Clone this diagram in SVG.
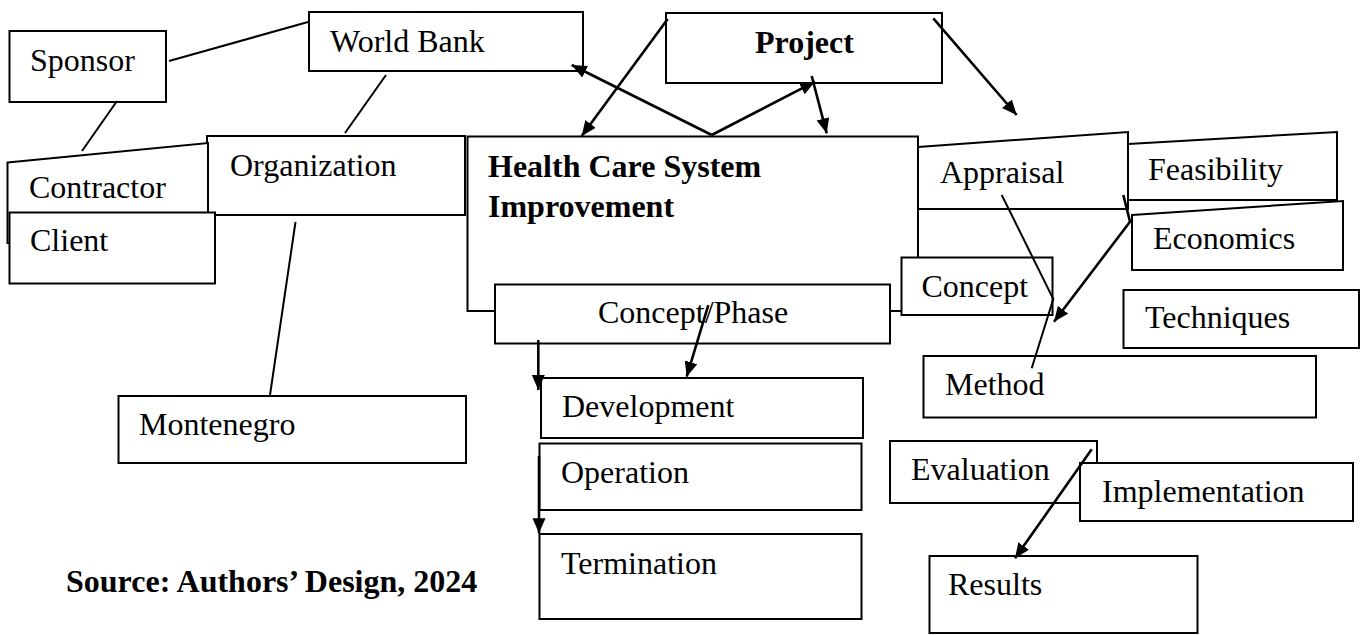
<svg xmlns="http://www.w3.org/2000/svg" width="1367" height="635" viewBox="0 0 1367 635">
<style>
.b{fill:#fff;stroke:#000;stroke-width:2}
.t{font-family:"Liberation Serif","Times New Roman",serif;font-size:32px;fill:#000}
.tb{font-family:"Liberation Serif","Times New Roman",serif;font-size:32px;font-weight:bold;fill:#000}
.l{fill:none;stroke:#000;stroke-width:2}
.a{fill:none;stroke:#000;stroke-width:2.6;marker-end:url(#ah)}
</style>
<defs>
<marker id="ah" markerUnits="userSpaceOnUse" markerWidth="16" markerHeight="14" refX="15" refY="6.5" orient="auto">
<path d="M0,0 L15,6.5 L0,13 z" fill="#000"/>
</marker>
</defs>
<rect width="1367" height="635" fill="#fff"/>

<g id="sponsor"><rect class="b" x="9.5" y="31" width="156.5" height="71"/><text class="t" x="30" y="71">Sponsor</text></g>
<g id="worldbank"><rect class="b" x="309" y="12" width="274" height="59"/><text class="t" x="330" y="52">World Bank</text></g>
<g id="organization"><rect class="b" x="207" y="136" width="258" height="79"/><text class="t" x="230" y="176">Organization</text></g>
<g id="contractor"><polygon class="b" points="7.5,162.5 208,143 208,243 7.5,243"/><text class="t" x="29" y="198">Contractor</text></g>
<g id="client"><rect class="b" x="9.5" y="212.5" width="205.5" height="71"/><text class="t" x="30" y="251">Client</text></g>
<g id="montenegro"><rect class="b" x="118.5" y="396" width="347.5" height="67"/><text class="t" x="139" y="435">Montenegro</text></g>
<g id="project"><rect class="b" x="666" y="13" width="276" height="70"/><text class="tb" x="755" y="53">Project</text></g>
<g id="healthcare"><rect class="b" x="467.5" y="136.5" width="450.5" height="174.5"/><text class="tb" x="488" y="177">Health Care System</text><text class="tb" x="488" y="217">Improvement</text></g>
<g id="appraisal"><polygon class="b" points="918,147 1128,132 1128,209 918,209"/><text class="t" x="940" y="183">Appraisal</text></g>
<g id="feasibility"><polygon class="b" points="1128,144 1337,132 1337,200 1128,200"/><text class="t" x="1148" y="180">Feasibility</text></g>
<g id="economics"><polygon class="b" points="1132,215 1343,201 1343,270 1132,270"/><text class="t" x="1153" y="249">Economics</text></g>
<g id="conceptphase"><rect class="b" x="495" y="284.5" width="395" height="59"/><text class="t" x="598" y="323">Concept/Phase</text></g>
<line class="l" x1="890" y1="311" x2="902" y2="311"/>
<g id="concept"><rect class="b" x="901.5" y="257.5" width="151" height="57.5"/><text class="t" x="921.5" y="297">Concept</text></g>
<g id="techniques"><rect class="b" x="1123.5" y="290" width="235.5" height="58"/><text class="t" x="1145" y="328">Techniques</text></g>
<g id="method"><rect class="b" x="923.5" y="356" width="392.5" height="61.5"/><text class="t" x="945" y="395">Method</text></g>
<g id="development"><rect class="b" x="541" y="378" width="322" height="60"/><text class="t" x="562" y="417">Development</text></g>
<g id="operation"><rect class="b" x="539.5" y="443.5" width="322" height="66.5"/><text class="t" x="561" y="483">Operation</text></g>
<g id="termination"><rect class="b" x="539.5" y="534" width="322" height="85"/><text class="t" x="561" y="574">Termination</text></g>
<g id="evaluation"><rect class="b" x="890" y="441" width="207" height="62"/><text class="t" x="911" y="480">Evaluation</text></g>
<g id="implementation"><rect class="b" x="1080" y="463" width="273" height="58"/><text class="t" x="1102" y="502">Implementation</text></g>
<g id="results"><rect class="b" x="929.5" y="556" width="268" height="77"/><text class="t" x="948" y="595">Results</text></g>
<g id="source"><text class="tb" x="66" y="592">Source: Authors’ Design, 2024</text></g>

<g id="connectors">
<line class="l" x1="169" y1="61" x2="308" y2="22"/>
<line class="l" x1="117" y1="101" x2="82" y2="151"/>
<line class="l" x1="386" y1="75" x2="345" y2="133"/>
<line class="l" x1="295.5" y1="222" x2="270" y2="395"/>
<line class="a" x1="667.7" y1="19" x2="581.7" y2="136"/>
<line class="a" x1="711.7" y1="135" x2="571.7" y2="65"/>
<line class="a" x1="711.7" y1="135" x2="815" y2="81.7"/>
<line class="a" x1="811.7" y1="76" x2="826.7" y2="133.3"/>
<line class="a" x1="933.3" y1="18.3" x2="1016.7" y2="115"/>
<path class="l" d="M1001.7,195 L1053.3,299 L1031.7,368.3"/>
<path class="a" d="M1123.3,195 L1130,221.7 L1054,321.7"/>
<line class="a" x1="708.3" y1="305" x2="686.7" y2="376.7"/>
<line class="a" x1="538.3" y1="340" x2="538.3" y2="390"/>
<line class="a" x1="539" y1="456" x2="539" y2="533.3"/>
<line class="a" x1="1091.7" y1="449.3" x2="1015" y2="558.3"/>
</g>
</svg>
